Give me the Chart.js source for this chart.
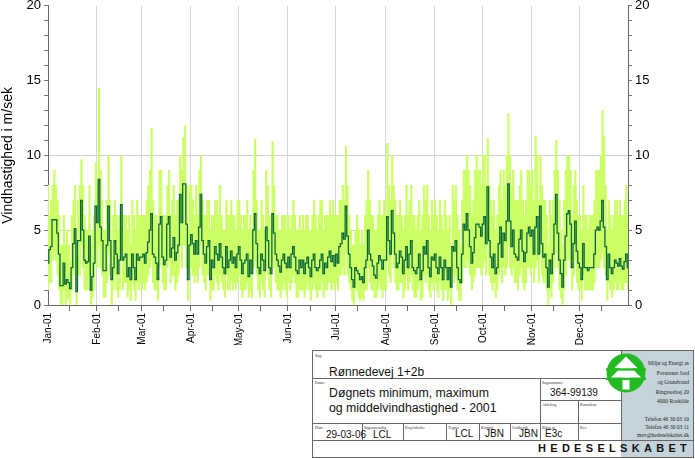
<!DOCTYPE html>
<html><head><meta charset="utf-8">
<script src="https://cdn.jsdelivr.net/npm/chart.js@4"></script>
<style>
body{margin:0;background:#fff;font-family:"Liberation Sans",Arial,sans-serif;overflow:hidden;}
#wrap{position:absolute;left:0;top:-5px;width:695px;height:350px;}
#tb{position:absolute;left:312px;top:350px;width:380px;height:106px;border:1px solid #666;background:#fff;font-family:"Liberation Sans",Arial,sans-serif;}
.l{position:absolute;border-color:#666;border-style:solid;border-width:0;}
.s{position:absolute;font-size:4px;font-family:"Liberation Serif",serif;color:#333;}
.t{position:absolute;color:#111;}
.r{position:absolute;font-family:"Liberation Serif",serif;font-size:5.5px;color:#222;text-align:right;}
</style></head><body>
<div id="wrap"><canvas id="c" width="695" height="350"></canvas></div>
<div id="tb">
 <div style="position:absolute;left:308px;top:0;width:72px;height:106px;background:#c4d3da"></div>
 <div class="l" style="left:0;top:27px;width:308px;border-top-width:1px"></div>
 <div class="l" style="left:0;top:72px;width:308px;border-top-width:1px"></div>
 <div class="l" style="left:0;top:89px;width:380px;border-top-width:1px"></div>
 <div class="l" style="left:227px;top:27px;height:62px;border-left-width:1px"></div>
 <div class="l" style="left:227px;top:49px;width:81px;border-top-width:1px"></div>
 <div class="l" style="left:265px;top:49px;height:40px;border-left-width:1px"></div>
 <div class="l" style="left:308px;top:0;height:89px;border-left-width:1px"></div>
 <div class="l" style="left:49px;top:72px;height:17px;border-left-width:1px"></div>
 <div class="l" style="left:90px;top:72px;height:17px;border-left-width:1px"></div>
 <div class="l" style="left:133px;top:72px;height:17px;border-left-width:1px"></div>
 <div class="l" style="left:166px;top:72px;height:17px;border-left-width:1px"></div>
 <div class="l" style="left:197px;top:72px;height:17px;border-left-width:1px"></div>
 <div class="s" style="left:2px;top:2px">Sag:</div>
 <div class="t" style="left:16px;top:14px;font-size:12px">Rønnedevej 1+2b</div>
 <div class="s" style="left:2px;top:29px">Emne:</div>
 <div class="t" style="left:16px;top:35px;font-size:12.3px;line-height:15px">Døgnets minimum, maximum<br>og middelvindhastighed - 2001</div>
 <div class="s" style="left:229px;top:29px">Sagsnummer</div>
 <div class="t" style="left:237px;top:36px;font-size:10px">364-99139</div>
 <div class="s" style="left:229px;top:51px">Afdeling</div>
 <div class="s" style="left:267px;top:51px">Konsulent</div>
 <div class="s" style="left:2px;top:74px">Dato</div>
 <div class="t" style="left:13px;top:78px;font-size:10px">29-03-06</div>
 <div class="s" style="left:51px;top:74px">Sagsansvarlig</div>
 <div class="t" style="left:60px;top:78px;font-size:10px">LCL</div>
 <div class="s" style="left:92px;top:74px">Projektleder</div>
 <div class="s" style="left:135px;top:74px">Tegner</div>
 <div class="t" style="left:142px;top:77px;font-size:10px">LCL</div>
 <div class="s" style="left:168px;top:74px">Kontrol</div>
 <div class="t" style="left:172px;top:77px;font-size:10px">JBN</div>
 <div class="s" style="left:199px;top:74px">Godkendt</div>
 <div class="t" style="left:206px;top:77px;font-size:10px">JBN</div>
 <div class="s" style="left:229px;top:74px">Bilag nr</div>
 <div class="t" style="left:232px;top:77px;font-size:10px">E3c</div>
 <div class="s" style="left:267px;top:74px">Rev</div>
 <div class="t" style="left:225px;top:91px;font-size:11px;font-weight:bold;letter-spacing:4.3px">HEDESELSKABET</div>
 <svg style="position:absolute;left:293px;top:2px" width="40" height="40" viewBox="0 0 34 34">
  <circle cx="17" cy="17" r="16.5" fill="#22bb22"/>
  <g fill="#fff"><polygon points="17,3 7,13 12,13 4,21 14,21 14,31 20,31 20,21 30,21 22,13 27,13"/></g>
  <g fill="#22bb22"><rect x="0" y="13" width="34" height="2"/><rect x="0" y="21" width="34" height="2"/></g>
 </svg>
 <div class="r" style="left:316px;top:8px;width:60px;line-height:9.5px">Miljø og Energi as<br>Forurenet Jord<br>og Grundvand<br>Ringstedvej 20<br>4000 Roskilde</div>
 <div class="r" style="left:312px;top:64px;width:64px;line-height:8px">Telefon 46 30 03 10<br>Telefax 46 30 03 11<br>mev@hedeselskabet.dk</div>
</div>
<script>
const monthNames=["Jan-01","Feb-01","Mar-01","Apr-01","May-01","Jun-01","Jul-01","Aug-01","Sep-01","Oct-01","Nov-01","Dec-01"];
const monthStarts=[0,31,59,90,120,151,181,212,243,273,304,334];
const monthMids=[14,45,73,104,134,165,195,226,257,287,318,348];
const yTicks=[0,5,10,15,20];
const meanWind=[
2.8,3.7,3.9,5.7,5.7,5.7,4.8,3.4,1.3,1.3,2.8,1.4,1.7,1.5,1.1,2.5,4.1,5.1,0.9,4.3,4.3,7.0,5.0,3.0,2.8,2.9,4.6,1.0,1.9,2.8,6.6,
5.5,8.4,5.2,4.3,2.3,2.3,4.0,6.6,4.3,1.7,2.5,4.3,3.4,2.1,3.0,6.7,3.0,3.2,3.4,1.9,2.5,1.7,3.4,2.5,1.7,3.4,3.0,3.2,
3.2,3.4,2.8,3.5,4.2,5.0,6.1,3.4,3.2,2.8,1.7,5.4,5.9,3.2,2.7,3.0,5.4,5.9,3.2,3.8,4.5,3.0,3.5,4.0,7.4,5.5,8.1,8.1,5.4,1.7,4.0,
4.7,4.1,3.4,4.3,3.4,5.2,7.4,4.3,3.4,2.8,3.9,4.3,1.7,3.0,2.5,3.9,3.4,3.0,4.1,3.2,2.5,2.1,3.9,2.5,3.0,3.6,2.8,3.2,2.5,3.4,
3.9,3.0,2.1,2.8,3.0,3.4,1.9,3.0,2.1,5.0,6.1,4.1,2.5,2.1,3.4,3.0,2.3,5.2,4.3,2.5,2.1,6.1,4.8,3.4,3.0,2.6,2.2,3.0,3.4,2.8,2.5,
3.2,2.5,3.4,3.9,3.2,2.3,2.1,3.0,2.5,3.0,2.1,2.8,3.2,2.5,1.9,3.0,3.4,2.5,2.3,2.5,3.0,3.4,2.1,2.8,2.5,3.2,3.6,2.9,3.3,2.6,
3.4,2.8,3.9,4.1,4.8,4.4,6.6,4.6,3.4,2.5,1.7,1.2,2.5,2.3,2.1,1.7,1.9,1.5,2.5,3.0,5.0,3.4,3.0,2.6,2.0,1.8,2.8,3.3,3.0,2.4,3.0,
3.0,5.9,4.3,3.4,6.3,4.8,3.4,2.5,2.8,3.6,3.2,2.1,3.0,3.9,2.5,3.4,4.3,2.5,2.3,2.1,2.5,3.4,1.7,2.3,3.9,3.4,4.3,2.5,1.9,3.2,3.0,
3.4,2.5,2.1,3.2,2.5,1.7,3.0,2.5,1.7,2.5,1.2,3.9,3.6,4.3,2.5,1.7,1.5,3.4,5.4,5.0,6.1,5.0,3.9,2.8,3.5,4.5,5.4,5.4,5.2,4.6,
5.4,5.9,4.1,7.9,4.3,3.2,2.5,3.4,2.1,2.5,4.1,5.2,3.2,4.8,4.3,5.6,8.1,5.6,3.9,5.0,3.4,3.2,3.0,4.4,5.0,3.6,2.9,3.5,4.8,5.2,4.6,
5.0,3.4,5.2,5.9,3.4,6.6,4.1,3.2,3.4,2.5,1.2,3.0,2.1,3.4,5.4,7.4,4.8,3.0,2.1,1.2,3.0,4.6,6.1,6.3,5.4,2.5,4.1,5.6,3.6,2.8,
2.5,1.7,4.1,2.5,2.5,2.3,2.5,2.5,2.5,3.4,5.0,5.2,5.0,5.6,7.0,5.2,3.9,1.7,3.4,2.5,2.1,2.5,3.0,2.8,2.6,3.1,2.6,2.4,2.9,3.4,2.5];
const maxWind=[
8,6,7,8,9,8,7,6,4,4,6,4,5,4,3,6,7,8,3,7,8,9.7,8,6,5,5,8,4,5,6,9.5,
8,14.5,9,7,5,5,7,10,7,4,6,7,6,5,6,10,6,6,6,5,6,4,7,6,5,7,6,6,
6,6,6,7,8,9,11.8,7,6,6,5,9,9,6,6,6,8,9,6,7,8,6,7,7,10,9,11.2,12,8,5,8,
8,7,6,8,6,9,10,7,6,6,7,7,5,6,6,7,7,6,8,6,5,5,7,6,6,7,6,6,5,7,
7,6,5,6,6,7,5,6,5,9,11.1,7,5,5,7,6,5,9,8,6,5,10.9,8,6,6,5,5,6,6,6,5,
6,5,6,7,6,5,5,6,5,6,5,6,6,5,5,6,7,6,5,6,7,7,5,6,6,6,7,6,7,6,
6,6,7,7,8,7,10.6,8,6,5,4,4,5,6,5,4,5,4,6,7,9,7,6,6,5,5,6,7,6,6,7,
6,10.8,8,7,10,8,7,6,6,7,6,5,6,8,6,7,8,6,6,5,6,7,5,6,8,7,8,6,5,7,6,
7,6,5,7,6,5,7,6,5,6,4,8,7,8,6,5,4,7,9,9,10,9,8,6,7,9,10,9,9,8,
10,10,8,11.1,8,7,6,7,5,6,8,9,7,9,8,10,12.8,10,8,9,7,7,7,8,9,7,6,7,9,9,8,
9,7,11.3,10,7,10,8,7,7,6,4,7,6,7,9,11,9,7,5,4,7,9,10,10,9,6,8,9,7,6,
6,5,8,6,6,5,6,6,6,7,9,9,9,10,13,11.3,8,5,7,6,5,6,7,7,6,7,6,6,7,8,6];
const minWind=[
1,1.5,1.5,3,3.5,3,2,1,0,0,1,0,0.3,0.5,0,1,2,2.5,0,2,2,4,2.5,1,1,1,2,0,0.5,1,3.5,
2.5,4,2.5,2,0.5,0.5,1.5,3.5,2,0,1,2,1,0.5,1,3.5,1,1.5,1.5,0.5,1,0.3,1.5,1,0.3,1.5,1,1.5,
1,1.5,1,1.5,2,2.5,3,1.5,1,1,0.3,2.5,3,1.5,1,1,2.5,3,1.5,2,2,1,1.5,2,4,2.5,4,4,2.5,0.3,2,
2.5,2,1.5,2,1.5,2.5,4,2,1.5,1,2,2,0.3,1,1,2,1.5,1,2,1.5,1,0.5,2,1,1,1.5,1,1.5,1,1.5,
2,1,0.5,1,1,1.5,0.5,1,0.5,2.5,3,2,1,0.5,1.5,1,0.5,2.5,2,1,0.5,3,2.5,1.5,1,1,0.5,1,1.5,1,0.5,
1.5,1,1.5,2,1.5,0.5,0.5,1,1,1,0.5,1,1.5,1,0.3,1,1.5,1,0.5,1,1,1.5,0.5,1,1,1.5,1.5,1,1.5,1,
1.5,1,2,2,2.5,2,3.5,2,1.5,1,0.3,0,1,1,0.5,0.3,0.5,0.3,1,1,2.5,1.5,1,1,0.5,0.5,1,1.5,1,0.5,1,
1,3,2,1.5,3.5,2.5,1.5,1,1,1.5,1.5,0.5,1,2,1,1.5,2,1,0.5,0.5,1,1.5,0.3,0.5,2,1.5,2,1,0.5,1.5,1,
1.5,1,0.5,1.5,1,0.3,1,1,0.3,1,0,2,1.5,2,1,0.3,0.3,1.5,2.5,2.5,3,2.5,2,1,1.5,2,2.5,2.5,2.5,2,
2.5,3,2,4,2,1.5,1,1.5,0.5,1,2,2.5,1.5,2.5,2,2.5,4,2.5,2,2.5,1.5,1.5,1,2,2.5,1.5,1,1.5,2.5,2.5,2,
2.5,1.5,2.5,3,1.5,3.5,2,1.5,1.5,1,0,1,0.5,1.5,2.5,3.5,2.5,1,0.5,0,1,2,3,3,2.5,1,2,3,1.5,1,
1,0.3,2,1,1,1,1,1,1,1.5,2.5,2.5,2.5,3,3.5,2.5,2,0.3,1.5,1,0.5,1,1.5,1,1,1.5,1,1,1.5,1.5,1];
const n=meanWind.length;
const days=Array.from({length:n},(_,i)=>i);
const band=days.map(i=>[minWind[i],maxWind[i]]);
const font={family:"Liberation Sans",size:13};
new Chart(document.getElementById('c'),{
 data:{labels:days,datasets:[
  {type:'line',data:meanWind,stepped:'middle',borderColor:'#0a6a35',borderWidth:1.3,pointRadius:0,order:0},
  {type:'bar',data:band,backgroundColor:'#ccff66',barPercentage:1,categoryPercentage:1,order:1}
 ]},
 options:{responsive:false,animation:false,
  plugins:{legend:{display:false},tooltip:{enabled:false}},
  layout:{padding:{top:0,right:0,left:0,bottom:0}},
  scales:{
   x:{type:'category',offset:false,
    grid:{color:c=>monthStarts.includes(c.index)?'#d8d8d8':'rgba(0,0,0,0)',drawTicks:true,tickLength:6,
      tickColor:c=>(monthStarts.includes(c.index)||monthMids.includes(c.index))?'#666':'rgba(0,0,0,0)'},
    border:{color:'#666'},
    ticks:{autoSkip:false,maxRotation:90,minRotation:90,color:'#000',font:{family:"Liberation Sans",size:10},padding:2,
      callback:(v,i)=>{const k=monthStarts.indexOf(i);return k>=0?monthNames[k]:'';}},
    afterFit:s=>{s.height=40;}
   },
   y:{position:'left',min:0,max:20,
    ticks:{stepSize:1,autoSkip:false,color:'#000',font,callback:v=>yTicks.includes(v)?v:''},
    grid:{color:c=>[5,10].includes(c.tick.value)?'#d0d0d0':'rgba(0,0,0,0)',tickColor:'#777',tickLength:4},
    border:{color:'#666'},
    title:{display:true,text:'Vindhastighed i m/sek',color:'#000',font:{family:"Liberation Sans",size:14},padding:0},
    afterFit:s=>{s.width=48;}
   },
   y2:{position:'right',min:0,max:20,
    ticks:{stepSize:1,autoSkip:false,color:'#000',font,callback:v=>yTicks.includes(v)?v:''},
    grid:{drawOnChartArea:false,tickColor:'#777',tickLength:4},
    border:{color:'#666'},
    afterFit:s=>{s.width=67;}
   }
  }
 }
});
</script>
</body></html>
